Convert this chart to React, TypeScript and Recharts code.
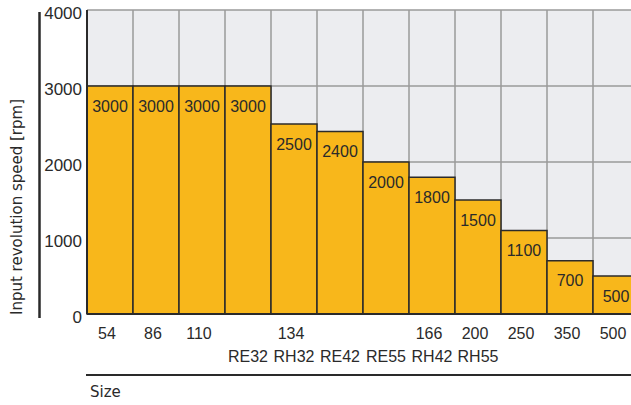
import { BarChart, Bar, XAxis, YAxis, CartesianGrid, LabelList } from "recharts"

const sizes = ["54", "86", "110", "", "134", "", "", "166", "200", "250", "350", "500"]
const types = ["", "", "", "RE32", "RH32", "RE42", "RE55", "RH42", "RH55", "", "", ""]
const speeds = [3000, 3000, 3000, 3000, 2500, 2400, 2000, 1800, 1500, 1100, 700, 500]
const yTicks = [0, 1000, 2000, 3000, 4000]

const data = speeds.map((v, i) => ({ key: `${i}-${sizes[i]}-${types[i]}`, speed: v }))

const FONT = "'Liberation Sans', Arial, sans-serif"
const LABEL_FONT = "'DejaVu Sans', sans-serif"
const TEXT = "#2a2a2a"

function XTick({ x, y, payload }: any) {
  const i = payload.index
  return (
    <g>
      <text x={x - 3} y={y + 19} textAnchor="middle" dominantBaseline="central" fontSize={16} fontFamily={FONT} fill={TEXT}>
        {sizes[i]}
      </text>
      <text x={x} y={y + 42} textAnchor="middle" dominantBaseline="central" fontSize={16} fontFamily={FONT} fill={TEXT}>
        {types[i]}
      </text>
    </g>
  )
}

function YTick({ x, y, payload }: any) {
  return (
    <text x={x} y={y + 3} textAnchor="end" dominantBaseline="central" fontSize={17} fontFamily={FONT} fill={TEXT}>
      {payload.value}
    </text>
  )
}

function ValueLabel({ x, y, width, value }: any) {
  return (
    <text x={x + width / 2} y={y + 20} textAnchor="middle" dominantBaseline="central" fontSize={16} fontFamily={FONT} fill={TEXT}>
      {value}
    </text>
  )
}

export default function App() {
  return (
    <div style={{ position: "absolute", left: 0, top: 0, width: 631, height: 405, overflow: "hidden", background: "#fff" }}>
      <BarChart
        width={640}
        height={405}
        data={data}
        margin={{ top: 10, right: 1, left: 0, bottom: 0 }}
        barCategoryGap={0}
      >
        <CartesianGrid
          fill="#ECEDF0"
          stroke="#9a9a9a"
          strokeWidth={1.5}
          verticalCoordinatesGenerator={({ offset }: any) =>
            Array.from({ length: data.length + 1 }, (_, i) => offset.left + (i * offset.width) / data.length)
          }
        />
        <XAxis
          dataKey="key"
          height={91}
          interval={0}
          tickLine={false}
          tickSize={0}
          tickMargin={0}
          axisLine={{ stroke: TEXT, strokeWidth: 2 }}
          tick={<XTick />}
        />
        <YAxis
          width={87}
          domain={[0, 4000]}
          ticks={yTicks}
          tickLine={false}
          tickSize={0}
          tickMargin={5}
          axisLine={{ stroke: TEXT, strokeWidth: 2 }}
          tick={<YTick />}
        />
        <Bar dataKey="speed" fill="#F8B71B" stroke="#2b2b2b" strokeWidth={1.5} isAnimationActive={false}>
          <LabelList dataKey="speed" content={<ValueLabel />} />
        </Bar>
      </BarChart>
      <svg width={631} height={405} style={{ position: "absolute", left: 0, top: 0, pointerEvents: "none" }}>
        <line x1={39.5} y1={12} x2={39.5} y2={318} stroke={TEXT} strokeWidth={2.5} />
        <line x1={86} y1={375} x2={631} y2={375} stroke={TEXT} strokeWidth={2} />
        <text x={90} y={392} dominantBaseline="central" fontSize={15} fontFamily={LABEL_FONT} fill={TEXT}>
          Size
        </text>
        <text
          x={17}
          y={207}
          transform="rotate(-90 17 207)"
          textAnchor="middle"
          dominantBaseline="central"
          fontSize={15}
          fontFamily={LABEL_FONT}
          fill={TEXT}
        >
          Input revolution speed [rpm]
        </text>
      </svg>
    </div>
  )
}
